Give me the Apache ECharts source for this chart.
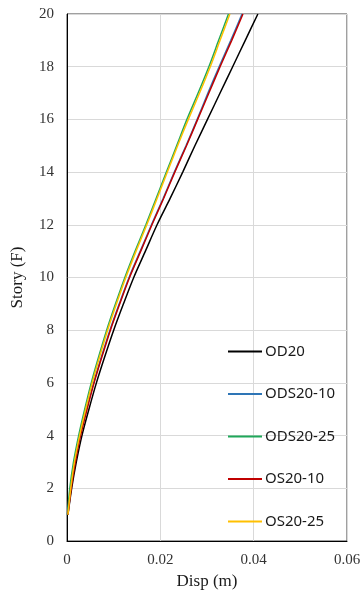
<!DOCTYPE html>
<html>
<head>
<meta charset="utf-8">
<script src="https://cdn.jsdelivr.net/npm/echarts@6/dist/echarts.min.js"></script>
<style>
  html, body { margin: 0; padding: 0; background: #fff; }
  #chart { width: 364px; height: 594px; }
</style>
</head>
<body>
<div id="chart"></div>
<script>
// Story levels (F)
const stories = [1, 2, 3, 4, 5, 6, 7, 8, 9, 10, 11, 12, 13, 14, 15, 16, 17, 18, 19, 20];

// Displacement (m) per story
const od20 = [0.0002, 0.0010, 0.0020, 0.0032, 0.0047, 0.0063, 0.0081, 0.0100, 0.0121, 0.0143,
              0.0168, 0.0193, 0.0221, 0.0248, 0.0274, 0.0301, 0.0328, 0.0355, 0.0382, 0.0409];
const ods2010 = [0.0001, 0.0008, 0.0017, 0.0028, 0.0042, 0.0057, 0.0074, 0.0092, 0.0112, 0.0133,
                 0.0157, 0.0181, 0.0206, 0.0230, 0.0255, 0.0279, 0.0302, 0.0326, 0.0351, 0.0375];
const ods2025 = [0.0001, 0.0006, 0.0014, 0.0025, 0.0038, 0.0052, 0.0068, 0.0085, 0.0104, 0.0124,
                 0.0146, 0.0169, 0.0191, 0.0213, 0.0235, 0.0257, 0.0281, 0.0304, 0.0325, 0.0346];
const os2010 = [0.0002, 0.0009, 0.0018, 0.0029, 0.0043, 0.0058, 0.0075, 0.0093, 0.0113, 0.0134,
                0.0158, 0.0182, 0.0207, 0.0231, 0.0256, 0.0280, 0.0304, 0.0328, 0.0353, 0.0377];
const os2025 = [0.0002, 0.0008, 0.0016, 0.0027, 0.0040, 0.0054, 0.0070, 0.0087, 0.0106, 0.0126,
                0.0148, 0.0171, 0.0193, 0.0215, 0.0237, 0.0260, 0.0284, 0.0307, 0.0328, 0.0349];

const seriesNames = ['OD20', 'ODS20-10', 'ODS20-25', 'OS20-10', 'OS20-25'];
const seriesColors = ['#000000', '#2E75B6', '#1FA85A', '#C00000', '#FFC000'];
const seriesData = [od20, ods2010, ods2025, os2010, os2025];

const chart = echarts.init(document.getElementById('chart'));

// pairs [disp, story]
function toPoints(values) {
    return values.map(function (v, i) { return [v, stories[i]]; });
}

const option = {
    animation: false,
    backgroundColor: '#fff',
    grid: {
        left: 67,
        right: 17,
        top: 14,
        bottom: 53,
        containLabel: false,
        outerBoundsMode: 'none',
        show: true,
        borderColor: '#404040',
        borderWidth: 1
    },
    legend: {
        orient: 'vertical',
        left: 223,
        top: 339,
        icon: 'rect',
        itemWidth: 34,
        itemHeight: 2,
        itemGap: 27.5,
        data: seriesNames,
        textStyle: {
            fontFamily: 'Noto Sans',
            fontSize: 15,
            color: '#1a1a1a',
            padding: [0, 0, 0, -2]
        }
    },
    xAxis: {
        type: 'value',
        min: 0,
        max: 0.06,
        interval: 0.02,
        name: 'Disp (m)',
        nameLocation: 'middle',
        nameGap: 31,
        nameTextStyle: {
            fontFamily: 'Liberation Serif',
            fontSize: 17,
            color: '#1a1a1a'
        },
        axisLine: { lineStyle: { color: '#000', width: 1 } },
        axisTick: { show: false },
        axisLabel: {
            fontFamily: 'Liberation Serif',
            fontSize: 15,
            color: '#333',
            margin: 12
        },
        splitLine: { show: true, lineStyle: { color: '#d9d9d9' } }
    },
    yAxis: {
        type: 'value',
        min: 0,
        max: 20,
        interval: 2,
        name: 'Story (F)',
        nameLocation: 'middle',
        nameGap: 41,
        nameTextStyle: {
            fontFamily: 'Liberation Serif',
            fontSize: 17,
            color: '#1a1a1a'
        },
        axisLine: { show: true, lineStyle: { color: '#000', width: 1 } },
        axisTick: { show: false },
        axisLabel: {
            fontFamily: 'Liberation Serif',
            fontSize: 15,
            color: '#333',
            margin: 13
        },
        splitLine: { show: true, lineStyle: { color: '#d9d9d9' } }
    },
    series: seriesNames.map(function (name, i) {
        return {
            name: name,
            type: 'line',
            data: toPoints(seriesData[i]),
            showSymbol: false,
            symbol: 'none',
            smooth: 0.3,
            color: seriesColors[i],
            lineStyle: { color: seriesColors[i], width: 1.5 }
        };
    })
};

chart.setOption(option);
</script>
</body>
</html>
